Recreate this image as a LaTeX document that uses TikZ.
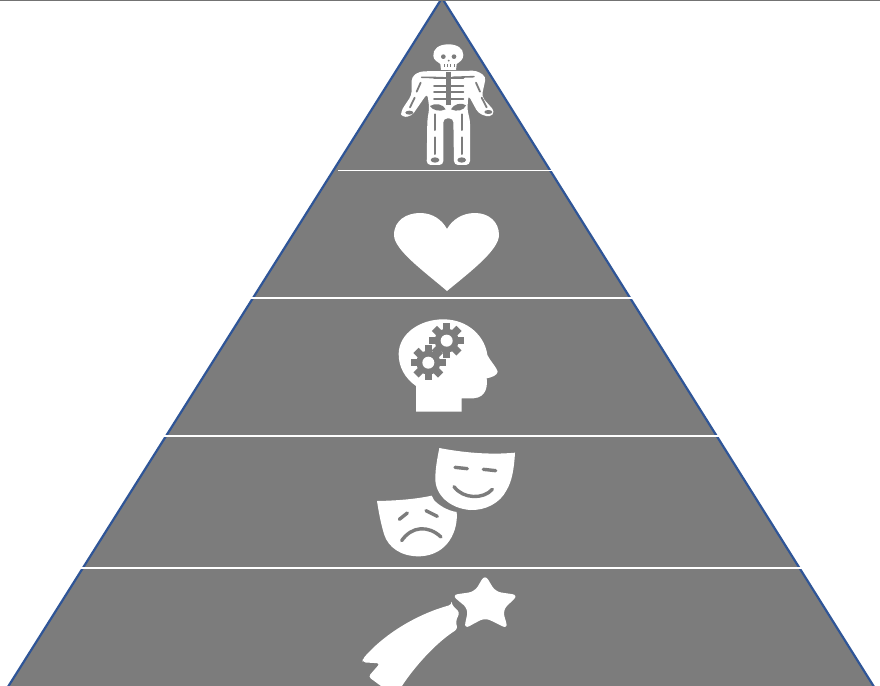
\documentclass[tikz,border=0pt]{standalone}
\tikzset{
  x=1pt,y=-1pt,
  pyramid/.style={fill=pyrgray,draw=pyrblue,line width=2.2pt,line join=miter},
  band/.style={draw=white,line width=1.3pt},
  bandshadow/.style={draw=black!35,line width=1pt},
  iconw/.style={fill=white,draw=white,line join=round},
  bonew/.style={draw=white,line cap=round,line join=round},
  boneg/.style={draw=pyrgray,line cap=round,line join=round},
}
\definecolor{pyrgray}{HTML}{7C7C7C}
\definecolor{pyrblue}{HTML}{2F5597}
\begin{document}
\begin{tikzpicture}
\useasboundingbox (0,0) rectangle (880,685);
\begin{scope}
\clip (0,0) rectangle (880,685);
\fill[white] (0,0) rectangle (880,685);
\draw[pyramid] (442,-2) -- (876,690) -- (6,690) -- cycle;
\draw[draw=black!55,line width=2pt] (0,0) -- (880,0);
% band separators
\coordinate (a1) at (338,170.5); \coordinate (a2) at (558,170.5);
\coordinate (b1) at (231,298); \coordinate (b2) at (667,298);
\coordinate (c1) at (154,436); \coordinate (c2) at (730,436);
\coordinate (d1) at (72,568); \coordinate (d2) at (813,568);
\foreach \l/\r in {a1/a2,b1/b2,c1/c2,d1/d2}{
  \draw[bandshadow] (\l) -- (\r);
  \draw[band] (\l) -- (\r);
}
% skeleton
\begin{scope}[shift={(380,30)},scale=1/3]
  \fill[white] (205,43) .. controls (175,43) and (158,58) .. (160,78)
     .. controls (161,92) and (175,96) .. (181,102) -- (183,120) -- (228,120) -- (230,102)
     .. controls (238,96) and (250,90) .. (250,75) .. controls (250,55) and (232,43) .. (205,43) -- cycle;
  \fill[pyrgray] (190,80) ellipse (7 and 7);
  \fill[pyrgray] (222,80) ellipse (7 and 7);
  \fill[pyrgray] (206,92) circle (3);
  \foreach \t in {192,202,212,222}{\draw[pyrgray,line width=.6pt] (\t,103) -- (\t,112);}
  % torso
  \fill[white,rounded corners=4pt] (95,140) -- (120,124) -- (290,122) -- (318,140) -- (305,200) -- (345,245) -- (330,262) -- (295,250) -- (265,195) -- (262,240) -- (270,270) -- (270,405) -- (222,405) -- (220,265) -- (190,265) -- (190,405) -- (140,405) -- (142,270) -- (148,235) -- (142,190) -- (95,258) -- (65,262) -- (62,245) -- (95,195) -- cycle;
  % ribs and spine
  \foreach \y in {145,168,186,206}{\draw[boneg,line width=1.8pt] (162,\y) -- (250,\y);}
  \draw[boneg,line width=1.6pt] (125,142) -- (190,143);
  \draw[boneg,line width=1.6pt] (218,142) -- (282,140);
  \draw[boneg,line width=5pt,line cap=butt] (205,125) -- (205,225);
  % arm bones
  \draw[boneg,line width=1.8pt] (122,158) -- (110,185);
  \draw[boneg,line width=1.8pt] (104,203) -- (90,232);
  \draw[boneg,line width=1.8pt] (288,158) -- (300,185);
  \draw[boneg,line width=1.8pt] (305,203) -- (320,232);
  \fill[pyrgray] (88,248) ellipse (12 and 6);
  \fill[pyrgray] (325,246) ellipse (12 and 6);
  % pelvis
  \fill[pyrgray] (150,228) .. controls (165,218) and (190,222) .. (197,238) .. controls (180,246) and (158,242) .. (150,228) -- cycle;
  \fill[pyrgray] (258,226) .. controls (245,216) and (220,222) .. (213,238) .. controls (230,246) and (252,242) .. (258,226) -- cycle;
  % leg bones
  \foreach \x in {165,245}{
    \draw[boneg,line width=2pt] (\x,253) -- (\x,300);
    \draw[boneg,line width=2pt] (\x,322) -- (\x,372);
  }
  \fill[pyrgray] (165,390) ellipse (13 and 8);
  \fill[pyrgray] (245,390) ellipse (13 and 8);
\end{scope}
% heart
\fill[white] (447,291) .. controls (425,272) and (394,250) .. (394,235)
  .. controls (394,220) and (407,213) .. (420,213)
  .. controls (433,213) and (442,220) .. (447,229)
  .. controls (452,220) and (462,213) .. (475,213)
  .. controls (489,213) and (499,222) .. (499,235)
  .. controls (499,250) and (470,272) .. (447,291) -- cycle;
% head with gears
\begin{scope}[shift={(380,310)},scale=1/3]
  \fill[white] (108,305) -- (108,228) .. controls (75,205) and (55,170) .. (56,130)
    .. controls (58,70) and (120,28) .. (190,28)
    .. controls (265,28) and (315,80) .. (322,135)
    .. controls (332,155) and (350,172) .. (353,185)
    .. controls (352,196) and (335,202) .. (320,205)
    .. controls (322,225) and (322,262) .. (280,265)
    -- (245,265) -- (245,305) -- cycle;
  \foreach \cx/\cy in {200/92,145/158}{
    \fill[pyrgray] (\cx,\cy) circle (36);
    \foreach \a in {0,45,...,315}{
      \fill[pyrgray,rotate around={\a:(\cx,\cy)}] (\cx-11,\cy-52) rectangle (\cx+11,\cy-25);
    }
    \fill[white] (\cx,\cy) circle (18);
  }
\end{scope}
% masks
\begin{scope}[shift={(360,440)},scale=1/3]
  \fill[white] (238,24) .. controls (310,38) and (390,45) .. (465,38)
    .. controls (462,90) and (455,125) .. (440,150)
    .. controls (420,190) and (375,212) .. (330,210)
    .. controls (270,205) and (225,165) .. (226,115)
    .. controls (226,85) and (232,55) .. (238,24) -- cycle;
  \draw[boneg,line width=3.4pt] (285,82) -- (322,86);
  \draw[boneg,line width=3.4pt] (370,88) -- (407,92);
  \draw[boneg,line width=3.4pt] (282,140) .. controls (310,178) and (370,178) .. (397,148);
  \fill[white] (51,183) .. controls (105,182) and (165,178) .. (215,167)
    -- (222,180) .. controls (235,195) and (262,212) .. (290,216)
    .. controls (295,270) and (265,345) .. (180,349)
    .. controls (120,350) and (85,320) .. (73,285)
    .. controls (62,250) and (56,215) .. (51,183) -- cycle;
  \draw[boneg,line width=3.4pt] (118,238) -- (142,219);
  \draw[boneg,line width=3.4pt] (198,212) -- (232,229);
  \draw[boneg,line width=3.4pt] (125,302) .. controls (155,258) and (205,255) .. (243,291);
\end{scope}
% shooting star
\begin{scope}[shift={(350,565)},scale=1/3]
  \fill[white,rounded corners=6pt] (405,28) -- (436,80) -- (505,90) -- (458,135) -- (474,192) -- (405,158) -- (342,192) -- (355,132) -- (305,90) -- (374,80) -- cycle;
  \fill[white,rounded corners=3pt] (305,119) -- (329,142) -- (317,170) -- (323,192)
    .. controls (255,235) and (190,310) .. (150,372) -- (105,372) -- (55,335) -- (90,295) -- (38,292) -- (38,282)
    .. controls (110,200) and (210,145) .. (305,119) -- cycle;
\end{scope}
\end{scope}
\end{tikzpicture}
\end{document}
